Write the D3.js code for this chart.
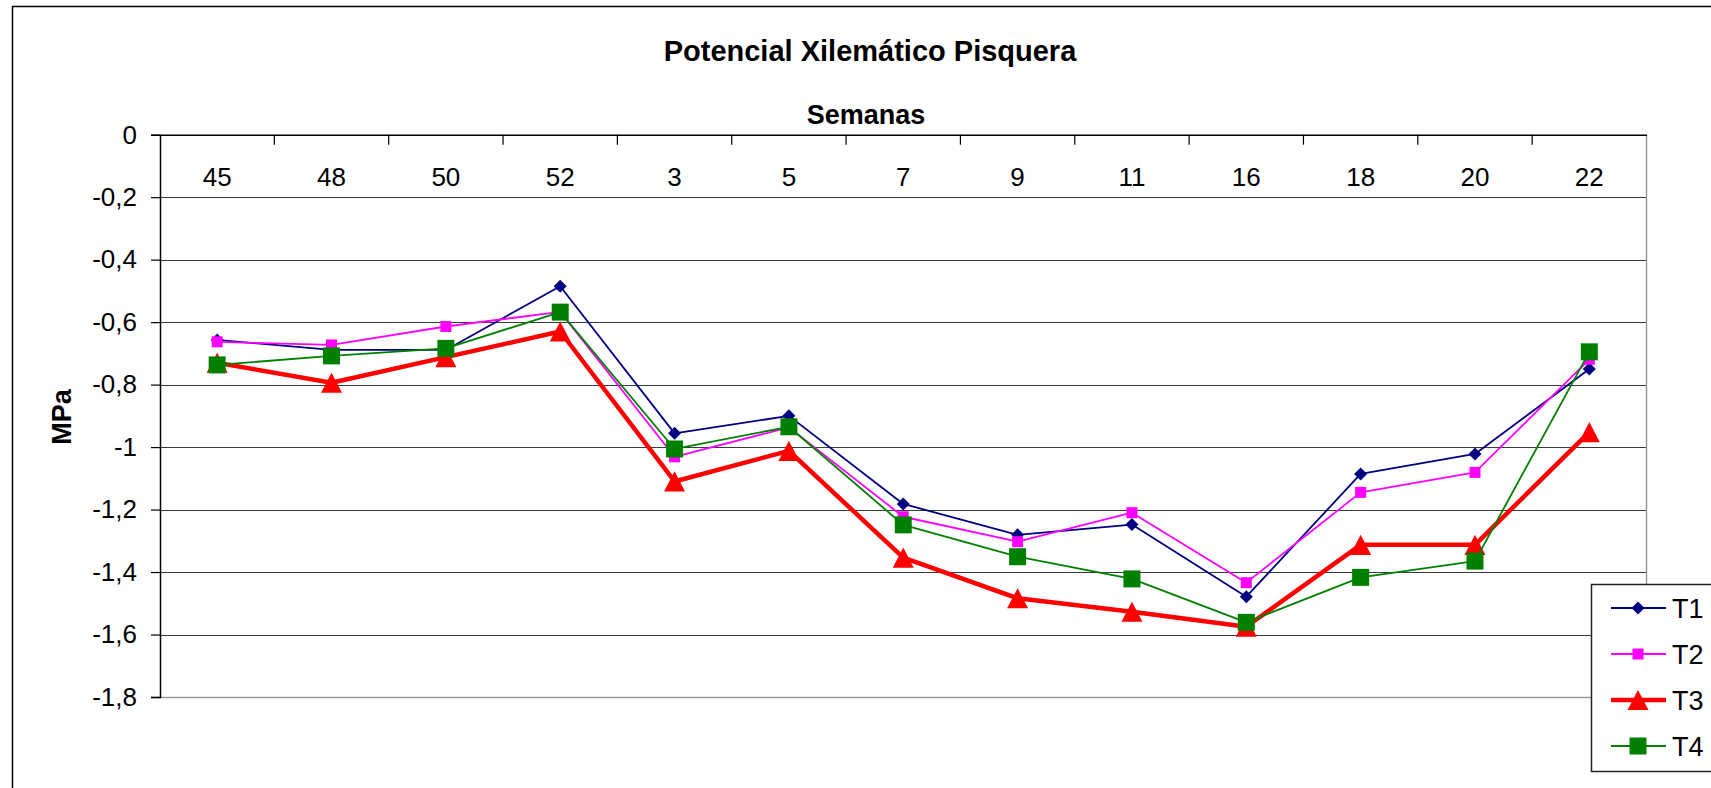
<!DOCTYPE html>
<html>
<head>
<meta charset="utf-8">
<script src="https://cdn.jsdelivr.net/npm/d3@7"></script>
<style>
  html, body { margin: 0; padding: 0; background: #fff; }
  svg { display: block; }
  text { font-family: "Liberation Sans", Arial, sans-serif; fill: #000; }
</style>
</head>
<body>
<svg id="chart" width="1711" height="788"></svg>
<script>
const categories = ["45", "48", "50", "52", "3", "5", "7", "9", "11", "16", "18", "20", "22"];
const seriesNames = ["T1", "T2", "T3", "T4"];
const t1 = [-0.657, -0.689, -0.689, -0.485, -0.956, -0.900, -1.182, -1.281, -1.248, -1.479, -1.086, -1.022, -0.750];
const t2 = [-0.663, -0.673, -0.614, -0.567, -1.031, -0.937, -1.223, -1.303, -1.210, -1.434, -1.145, -1.081, -0.719];
const t3 = [-0.730, -0.794, -0.712, -0.630, -1.110, -1.012, -1.354, -1.484, -1.527, -1.575, -1.313, -1.313, -0.952];
const t4 = [-0.737, -0.708, -0.684, -0.568, -1.006, -0.935, -1.249, -1.351, -1.422, -1.561, -1.417, -1.365, -0.695];
const yTicks = [0, -0.2, -0.4, -0.6, -0.8, -1, -1.2, -1.4, -1.6, -1.8];
const titleText = "Potencial Xilemático Pisquera";
const xTitle = "Semanas";
const yTitle = "MPa";

const svg = d3.select("#chart");
const W = 1711, H = 788;
const plot = { left: 160, right: 1646.5, top: 134.7, bottom: 697 };

// outer chart frame (extends off the canvas to the right and bottom)
svg.append("rect")
  .attr("x", 12.5).attr("y", 6.5).attr("width", W).attr("height", H)
  .attr("fill", "#fff").attr("stroke", "#000").attr("stroke-width", 1.5);

const x = d3.scaleBand().domain(categories).range([plot.left, plot.right]).padding(0);
const y = d3.scaleLinear().domain([-1.8, 0]).range([plot.bottom, plot.top]);

// gridlines
svg.append("g").selectAll("line").data(yTicks.filter(d => d !== 0 && d !== -1.8)).join("line")
  .attr("x1", plot.left).attr("x2", plot.right)
  .attr("y1", d => Math.round(y(d)) + 0.5).attr("y2", d => Math.round(y(d)) + 0.5)
  .attr("stroke", "#3a3a3a").attr("stroke-width", 1.2);

// bottom and right border of plot area (gray)
svg.append("line")
  .attr("x1", plot.left).attr("x2", plot.right)
  .attr("y1", Math.round(y(-1.8)) + 0.5).attr("y2", Math.round(y(-1.8)) + 0.5)
  .attr("stroke", "#9a9a9a").attr("stroke-width", 1.5);
svg.append("line")
  .attr("x1", plot.right).attr("x2", plot.right)
  .attr("y1", plot.top).attr("y2", plot.bottom)
  .attr("stroke", "#9a9a9a").attr("stroke-width", 1.5);

// y axis
const fmt = d => String(d).replace(".", ",");
const yAxis = svg.append("g")
  .attr("transform", `translate(${plot.left},0)`)
  .call(d3.axisLeft(y).tickValues(yTicks).tickSize(9).tickPadding(14).tickFormat(fmt));
yAxis.select(".domain").attr("stroke", "#000").attr("stroke-width", 1.5);
yAxis.selectAll(".tick line").attr("stroke", "#000").attr("stroke-width", 1.2);
yAxis.selectAll(".tick text").attr("font-size", 26).attr("font-family", '"Liberation Sans", Arial, sans-serif').attr("fill", "#000");

// x axis on top: line, labels inside plot, ticks between categories pointing down
const xAxis = svg.append("g")
  .attr("transform", `translate(0,${plot.top})`)
  .call(d3.axisBottom(x).tickSize(0).tickPadding(33));
xAxis.select(".domain").attr("stroke", "#000").attr("stroke-width", 1.5);
xAxis.selectAll(".tick text").attr("font-size", 26).attr("font-family", '"Liberation Sans", Arial, sans-serif').attr("fill", "#000");
svg.append("g").selectAll("line").data(categories.slice(1)).join("line")
  .attr("x1", d => x(d)).attr("x2", d => x(d))
  .attr("y1", plot.top).attr("y2", plot.top + 10)
  .attr("stroke", "#000").attr("stroke-width", 1.2);

// titles
svg.append("text").attr("x", 870).attr("y", 61).attr("text-anchor", "middle")
  .attr("font-size", 29).attr("font-weight", "bold").text(titleText);
svg.append("text").attr("x", 866).attr("y", 124).attr("text-anchor", "middle")
  .attr("font-size", 27).attr("font-weight", "bold").text(xTitle);
svg.append("text").attr("transform", "translate(71,417) rotate(-90)").attr("text-anchor", "middle")
  .attr("font-size", 27).attr("font-weight", "bold").text(yTitle);

// series
const markerPath = {
  diamond: s => `M0,${-s / 2}L${s / 2},0L0,${s / 2}L${-s / 2},0Z`,
  square: s => `M${-s / 2},${-s / 2}h${s}v${s}h${-s}Z`,
  triangle: s => `M0,${-s * 0.48}L${s / 2},${s * 0.48}L${-s / 2},${s * 0.48}Z`
};
const series = [
  { name: seriesNames[0], values: t1, color: "#000080", width: 1.8, marker: "diamond", size: 13 },
  { name: seriesNames[1], values: t2, color: "#FF00FF", width: 1.8, marker: "square", size: 11 },
  { name: seriesNames[2], values: t3, color: "#FF0000", width: 4.5, marker: "triangle", size: 21 },
  { name: seriesNames[3], values: t4, color: "#008000", width: 1.8, marker: "square", size: 17 }
];
const cx = d => x(d) + x.bandwidth() / 2;
const line = d3.line().x((v, i) => cx(categories[i])).y(v => y(v));

series.forEach(s => {
  const g = svg.append("g");
  g.append("path").attr("d", line(s.values)).attr("fill", "none")
    .attr("stroke", s.color).attr("stroke-width", s.width).attr("stroke-linejoin", "round");
  g.selectAll("path.m").data(s.values).join("path").attr("class", "m")
    .attr("transform", (v, i) => `translate(${cx(categories[i])},${y(v)})`)
    .attr("d", markerPath[s.marker](s.size)).attr("fill", s.color);
});

// legend
const lg = svg.append("g");
lg.append("rect").attr("x", 1591.5).attr("y", 584.5).attr("width", 200).attr("height", 187)
  .attr("fill", "#fff").attr("stroke", "#222").attr("stroke-width", 1.5);
const rowY = d3.scalePoint().domain(seriesNames).range([608, 746]);
series.forEach(s => {
  const yy = rowY(s.name);
  lg.append("line").attr("x1", 1611).attr("x2", 1666).attr("y1", yy).attr("y2", yy)
    .attr("stroke", s.color).attr("stroke-width", s.width);
  lg.append("path").attr("transform", `translate(1638,${yy})`)
    .attr("d", markerPath[s.marker](s.size)).attr("fill", s.color);
  lg.append("text").attr("x", 1672).attr("y", yy + 10).attr("font-size", 27).text(s.name);
});
</script>
</body>
</html>
